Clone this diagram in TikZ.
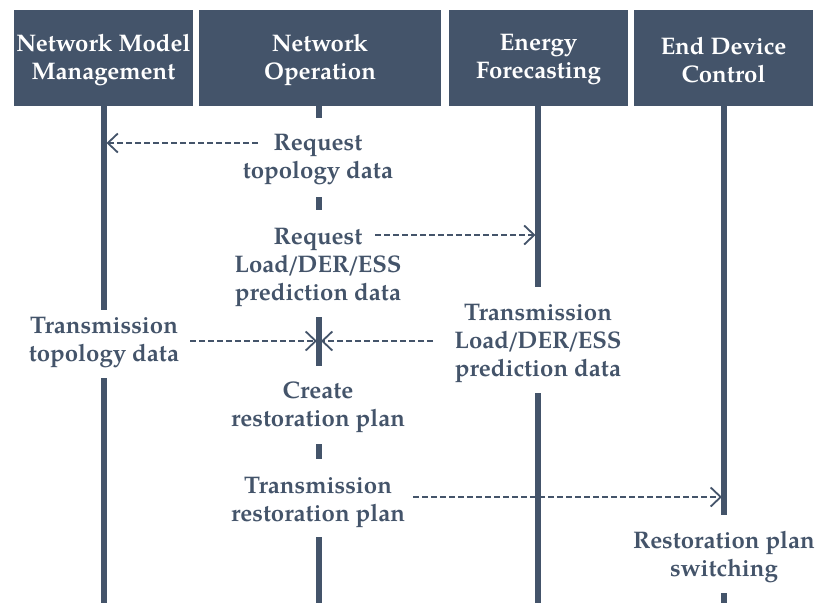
\documentclass[tikz,border=0pt]{standalone}
\usepackage{fontspec}
\setmainfont{TeX Gyre Pagella}
\usetikzlibrary{arrows.meta}
\definecolor{slate}{HTML}{44546A}
\newcommand{\ldes}{Load\kern-2pt/\kern-2pt DER\kern-2pt/\kern-2pt ESS}
\begin{document}
\begin{tikzpicture}[x=1pt,y=-1pt,
  hdr/.style={fill=slate, draw=none, minimum height=96pt, inner sep=0pt},
  hdrtext/.style={text=white, font=\bfseries\fontsize{24}{28}\selectfont, align=center, inner sep=0pt},
  lbl/.style={text=slate, font=\bfseries\fontsize{24}{28}\selectfont, align=center, inner sep=0pt},
  life/.style={draw=slate, line width=5.5pt},
  msg/.style={draw=slate, line width=1.8pt, dash pattern=on 6pt off 3pt, -{Straight Barb[length=10pt,width=19pt,line width=1.8pt]}}
]
\useasboundingbox (0,0) rectangle (819,603);
% headers
\node[hdr, minimum width=179pt] (nmm) at (103.5,58) {};
\node[hdr, minimum width=242pt] (nop) at (320,58) {};
\node[hdr, minimum width=179pt] (efc) at (538.5,58) {};
\node[hdr, minimum width=179pt] (edc) at (723.5,58) {};
\node[hdrtext] (nmmt) at (103.5,60) {Network Model\\Management};
\node[hdrtext] (nopt) at (320,60) {Network\\Operation};
\node[hdrtext] (efct) at (538.5,60) {Energy\\Forecasting};
\node[hdrtext] (edct) at (723.5,60) {End Device\\Control};
% lifeline coordinates
\coordinate (a0) at (104,106); \coordinate (a1) at (104,310);
\coordinate (a2) at (104,378); \coordinate (a3) at (104,603);
\coordinate (b0) at (319,106); \coordinate (b1) at (319,118);
\coordinate (b2) at (319,197); \coordinate (b3) at (319,210);
\coordinate (b4) at (319,317); \coordinate (b5) at (319,366);
\coordinate (b6) at (319,444); \coordinate (b7) at (319,459);
\coordinate (b8) at (319,537); \coordinate (b9) at (319,603);
\coordinate (c0) at (538,106); \coordinate (c1) at (538,287);
\coordinate (c2) at (538,393); \coordinate (c3) at (538,603);
\coordinate (d0) at (724,106); \coordinate (d1) at (724,515);
\coordinate (d2) at (724,593); \coordinate (d3) at (724,603);
\draw[life] (a0) -- (a1); \draw[life] (a2) -- (a3);
\draw[life] (b0) -- (b1); \draw[life] (b2) -- (b3);
\draw[life] (b4) -- (b5); \draw[life] (b6) -- (b7);
\draw[life] (b8) -- (b9);
\draw[life] (c0) -- (c1); \draw[life] (c2) -- (c3);
\draw[life] (d0) -- (d1); \draw[life] (d2) -- (d3);
% labels
\node[lbl] (l1) at (318,160) {Request\\topology data};
\node[lbl] (l2) at (318,267) {Request\\\ldes\\prediction data};
\node[lbl] (l3) at (104,343) {Transmission\\topology data};
\node[lbl] (l4) at (538,343) {Transmission\\\ldes\\prediction data};
\node[lbl] (l5) at (318,407) {Create\\restoration plan};
\node[lbl] (l6) at (318,502) {Transmission\\restoration plan};
\node[lbl] (l7) at (724,557) {Restoration plan\\switching};
% message start / end points
\coordinate (m1s) at (258,143); \coordinate (m1e) at (106.5,143);
\coordinate (m2s) at (375,235); \coordinate (m2e) at (535.5,235);
\coordinate (m3s) at (190,341); \coordinate (m3e) at (317,341);
\coordinate (m4s) at (433,341); \coordinate (m4e) at (321,341);
\coordinate (m5s) at (413,497); \coordinate (m5e) at (722,497);
\draw[msg] (m1s) -- (m1e);
\draw[msg] (m2s) -- (m2e);
\draw[msg] (m3s) -- (m3e);
\draw[msg] (m4s) -- (m4e);
\draw[msg] (m5s) -- (m5e);
\end{tikzpicture}
\end{document}
